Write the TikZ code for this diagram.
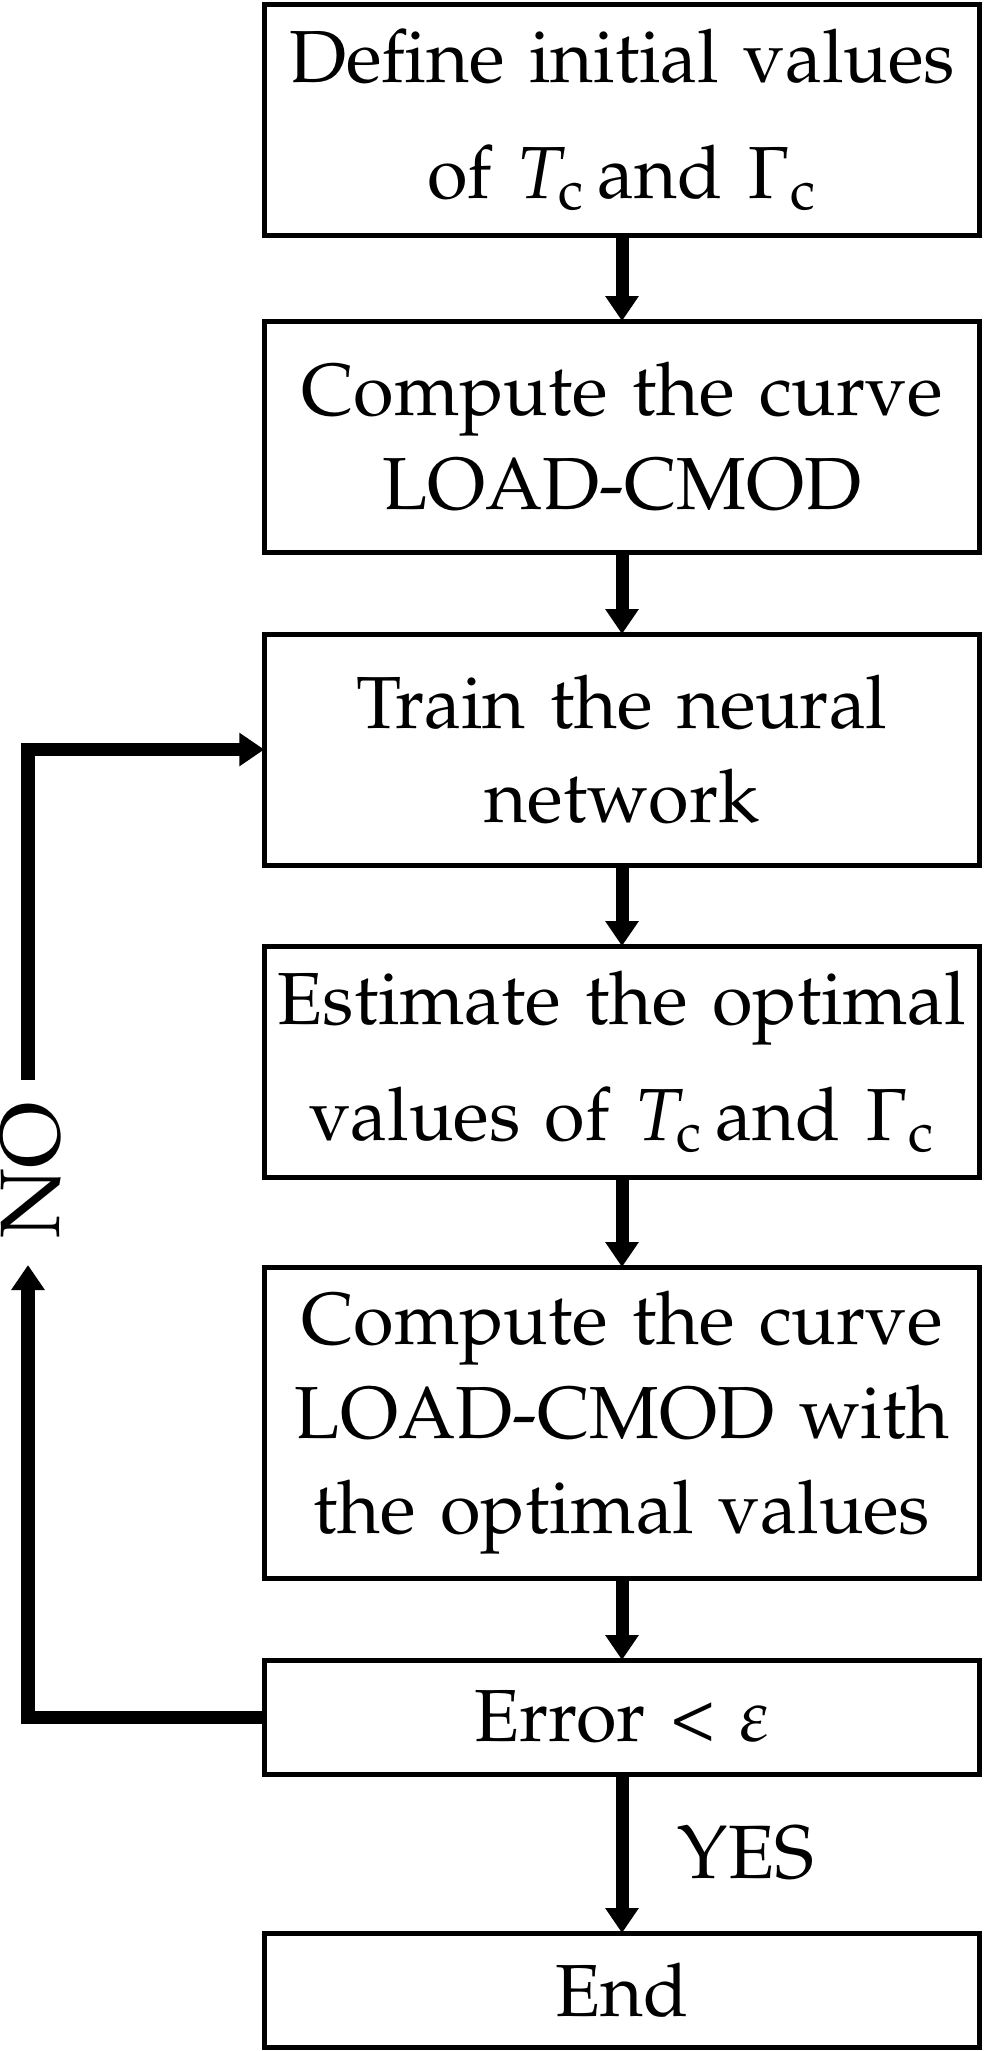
\documentclass[tikz,border=0pt]{standalone}
\usepackage[T1]{fontenc}
\usepackage{mathpazo}
\usepackage{tikz}
\usetikzlibrary{positioning}
\usetikzlibrary{arrows.meta}
\usetikzlibrary{calc}
\tikzset{
  stepbox/.style={
    rectangle, draw, line width=0.05cm, outer sep=0pt, inner sep=0pt,
    minimum width=7.155cm, minimum height=2.31cm,
    text width=7.15cm, align=center,
    font=\fontsize{21}{26.8}\selectfont
  },
  flow/.style={line width=0.13cm, -{Triangle[width=0.32cm,length=0.25cm]}}
}

\begin{document}
\begin{tikzpicture}
    \useasboundingbox (0,0) rectangle (9.87,-20.51);

    \node[stepbox] (b1) at (6.22,-1.195) {Define initial values\\[6.3pt]of $T_\mathrm{c}$\,and $\Gamma_\mathrm{c}$};
    \node[stepbox,below = 0.86cm of b1] (b2) {Compute the curve\\LOAD-CMOD};
    \node[stepbox,below = 0.82cm of b2] (b3) {Train the neural\\network};
    \node[stepbox,below = 0.81cm of b3] (b4) {Estimate the optimal\\[6.3pt]values of $T_\mathrm{c}$\,and $\Gamma_\mathrm{c}$};
    \node[stepbox,below = 0.90cm of b4,minimum height=3.11cm] (b5) {Compute the curve\\LOAD-CMOD with\\the optimal values};
    \node[stepbox,below = 0.82cm of b5,minimum height=1.14cm] (b6) {Error \textless{} $\varepsilon$};
    \node[stepbox,below = 1.59cm of b6,minimum height=1.14cm] (b7) {End};

    \draw[flow] (b1) -- (b2);
    \draw[flow] (b2) -- (b3);
    \draw[flow] (b3) -- (b4);
    \draw[flow] (b4) -- (b5);
    \draw[flow] (b5) -- (b6);
    \draw[flow] (b6) -- (b7);
    \node[anchor=west,inner sep=0pt,font=\fontsize{21.5}{26}\selectfont] (yes) at ($(b6.south)!0.5!(b7.north)+(0.55,0)$) {YES};

    % loop back when the error is too big
    \coordinate (nolow) at (0.28,-12.65);
    \coordinate (noup) at (0.28,-10.80);
    \draw[flow] (b6.west) -| (nolow);
    \draw[flow] (noup) |- (b3.west);
    \node[rotate=90,inner sep=0pt,font=\fontsize{24}{28}\selectfont] (no) at (0.31,-11.70) {NO};
\end{tikzpicture}
\end{document}
